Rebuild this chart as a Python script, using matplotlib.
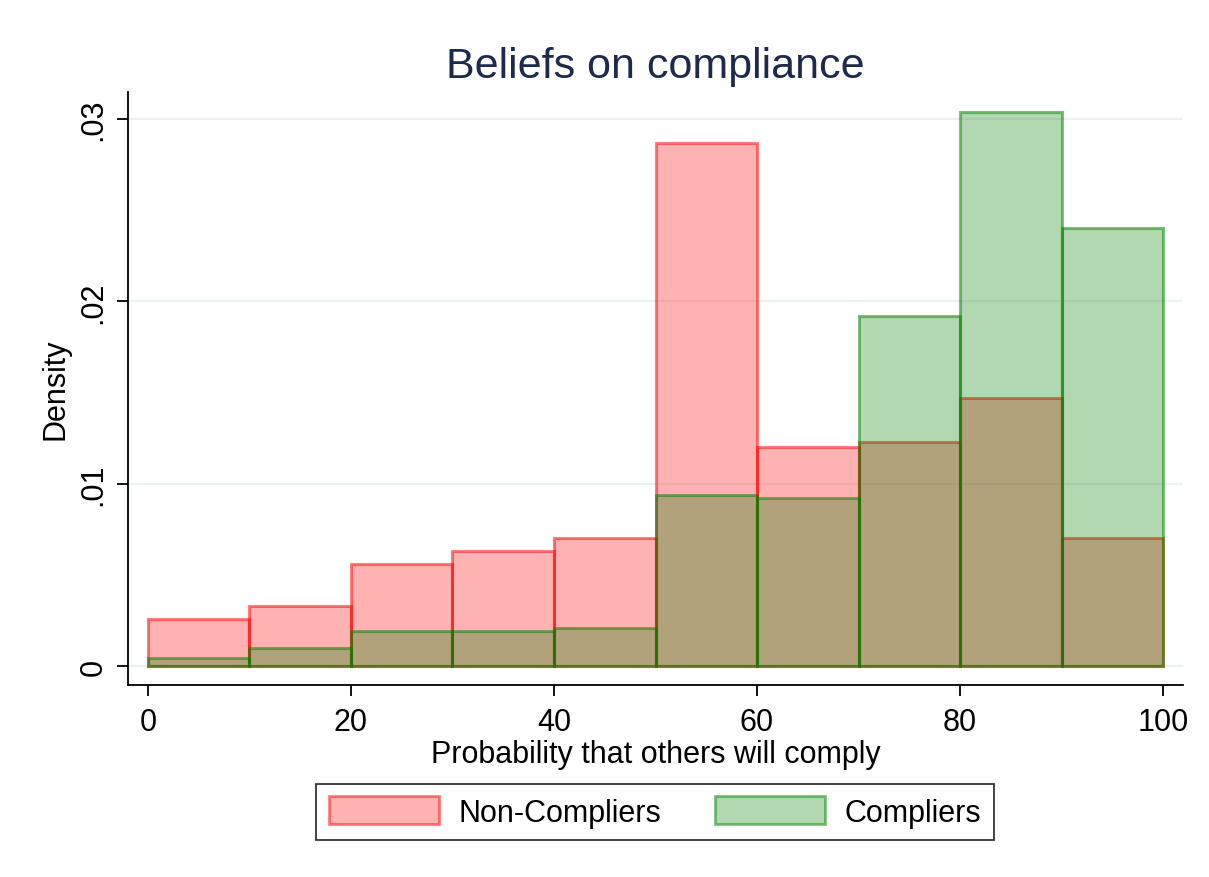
import numpy as np
import matplotlib.pyplot as plt
from matplotlib.patches import Patch

plt.rcParams['font.family'] = ['Liberation Sans', 'DejaVu Sans']

# bin edges (width 10) and density per bin
bin_edges = [0, 10, 20, 30, 40, 50, 60, 70, 80, 90, 100]
noncompliers = [0.0026, 0.0033, 0.0056, 0.0063, 0.0070, 0.0287, 0.0120, 0.0123, 0.0147, 0.0070]
compliers = [0.00045, 0.0010, 0.0019, 0.0019, 0.0021, 0.0094, 0.0092, 0.0192, 0.0304, 0.0240]
ytick_vals = [0, 0.01, 0.02, 0.03]
ytick_labels = ['0', '.01', '.02', '.03']
xtick_vals = [0, 20, 40, 60, 80, 100]

red_fill = (1, 0, 0, 0.3)
red_edge = (1, 0, 0, 0.5)
green_fill = (0, 0.5, 0, 0.3)
green_edge = (0, 0.5, 0, 0.5)

fig = plt.figure(figsize=(12.09, 8.78), dpi=100)
ax = fig.add_axes([128/1209, 1 - 686/878, (1183-128)/1209, (686-93)/878])

lefts = np.array(bin_edges[:-1])
widths = np.diff(bin_edges)
ax.bar(lefts, noncompliers, width=widths, align='edge', color=red_fill,
       edgecolor=red_edge, linewidth=2.2, zorder=2)
ax.bar(lefts, compliers, width=widths, align='edge', color=green_fill,
       edgecolor=green_edge, linewidth=2.2, zorder=3)

ax.set_xlim(-1.97, 101.97)
ax.set_ylim(-0.00104, 0.03148)
ax.set_yticks(ytick_vals)
ax.set_yticklabels(ytick_labels, rotation=90, va='center', fontsize=22)
ax.set_xticks(xtick_vals)
ax.tick_params(axis='x', labelsize=22, length=8, width=1.3, pad=8)
ax.tick_params(axis='y', length=8, width=1.3, pad=6)
ax.grid(axis='y', color='#eaf2f3', linewidth=1.5, zorder=0)
ax.set_axisbelow(True)

for s in ['top', 'right']:
    ax.spines[s].set_visible(False)
for s in ['left', 'bottom']:
    ax.spines[s].set_linewidth(1.3)

ax.set_xlabel('Probability that others will comply', fontsize=22, labelpad=1)
ax.set_ylabel('Density', fontsize=22, labelpad=6)
fig.text(655/1209, 1 - 67/878, 'Beliefs on compliance', ha='center', va='center',
         fontsize=31, color='#1e2a4a')

handles = [Patch(facecolor=red_fill, edgecolor=red_edge, linewidth=2, label='Non-Compliers'),
           Patch(facecolor=green_fill, edgecolor=green_edge, linewidth=2, label='Compliers')]
leg = fig.legend(handles=handles, loc='center', bbox_to_anchor=(655/1209, 1 - 813/878),
                 ncol=2, fontsize=22, frameon=True, fancybox=False,
                 handlelength=3.6, handleheight=1.0, columnspacing=1.75, handletextpad=0.65,
                 borderpad=0.4, borderaxespad=0)
leg.get_frame().set_edgecolor('black')
leg.get_frame().set_linewidth(1.3)

fig.savefig('out.png', dpi=100, facecolor='white')
